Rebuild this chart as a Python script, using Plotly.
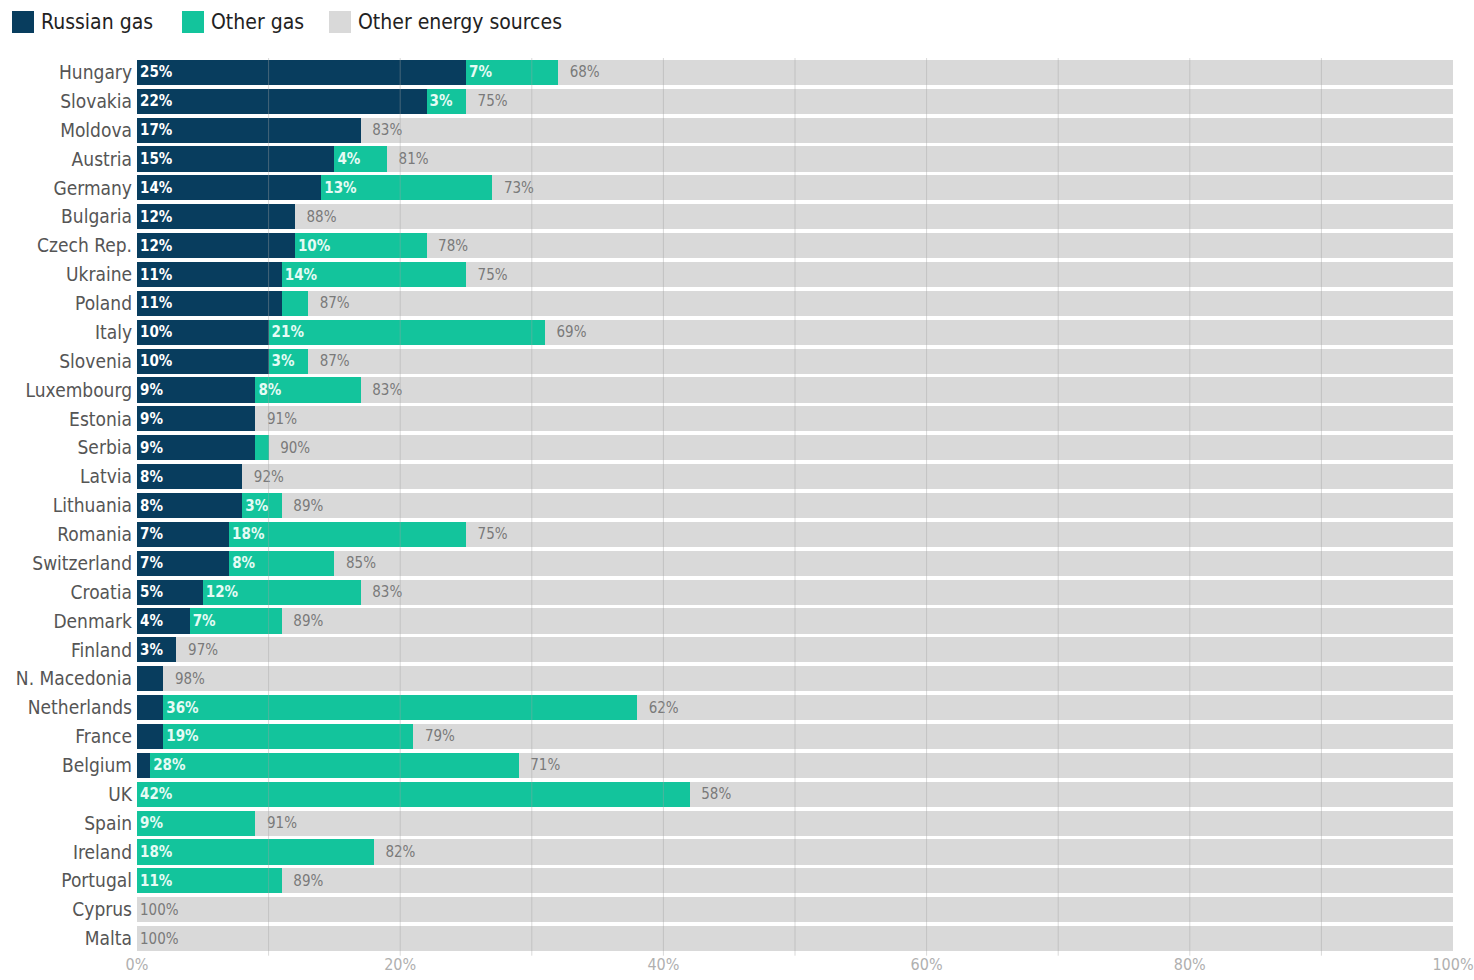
import plotly.graph_objects as go

countries = ["Hungary", "Slovakia", "Moldova", "Austria", "Germany", "Bulgaria", "Czech Rep.",
             "Ukraine", "Poland", "Italy", "Slovenia", "Luxembourg", "Estonia", "Serbia", "Latvia",
             "Lithuania", "Romania", "Switzerland", "Croatia", "Denmark", "Finland", "N. Macedonia",
             "Netherlands", "France", "Belgium", "UK", "Spain", "Ireland", "Portugal", "Cyprus", "Malta"]
russian_gas = [25, 22, 17, 15, 14, 12, 12, 11, 11, 10, 10, 9, 9, 9, 8, 8, 7, 7, 5, 4, 3, 2,
               2, 2, 1, 0, 0, 0, 0, 0, 0]
other_gas = [7, 3, 0, 4, 13, 0, 10, 14, 2, 21, 3, 8, 0, 1, 0, 3, 18, 8, 12, 7, 0, 0,
             36, 19, 28, 42, 9, 18, 11, 0, 0]
other_sources = [68, 75, 83, 81, 73, 88, 78, 75, 87, 69, 87, 83, 91, 90, 92, 89, 75, 85, 83, 89, 97, 98,
                 62, 79, 71, 58, 91, 82, 89, 100, 100]
series_names = ["Russian gas", "Other gas", "Other energy sources"]
x_ticks = [0, 20, 40, 60, 80, 100]
x_tick_labels = ["0%", "20%", "40%", "60%", "80%", "100%"]
grid_vals = [10, 20, 30, 40, 50, 60, 70, 80, 90]

NAVY = "#083d5e"
TEAL = "#13c49c"
GRAY = "#d9d9d9"
COLORS = [NAVY, TEAL, GRAY]
FONT = "DejaVu Sans Condensed, Roboto, sans-serif"

W, H = 1474, 980
ML, MR, MT, MB = 137, 21, 58, 27
PW, PH = W - ML - MR, H - MT - MB

def lab(vals, min_v=3):
    return [f"{v}%" if v >= min_v else "" for v in vals]

gray_text = [("\u00a0\u00a0" if v < 100 else "") + f"{v}%" for v in other_sources]
texts = [lab(russian_gas), lab(other_gas), gray_text]
text_colors = ["white", "#e6fbf5", "#7a7a7a"]
text_weights = ["bold", "bold", "normal"]

fig = go.Figure()
for name, vals, col, txt, tc, tw in zip(series_names, [russian_gas, other_gas, other_sources],
                                        COLORS, texts, text_colors, text_weights):
    fig.add_trace(go.Bar(y=countries, x=vals, orientation="h", name=name,
                         marker=dict(color=col, line=dict(width=0)),
                         text=txt, textposition="inside", insidetextanchor="start",
                         constraintext="none", showlegend=False,
                         textfont=dict(color=tc, size=15, family=FONT, weight=tw)))

shapes = [dict(type="line", xref="x", yref="paper", x0=g, x1=g, y0=-0.003, y1=1,
               line=dict(color="rgba(160,160,160,0.4)", width=1), layer="above")
          for g in grid_vals]

# custom legend (pixel positions converted to paper coords)
def px_x(p):
    return (p - ML) / PW

def px_y(p):
    return (H - MB - p) / PH

legend_sq_px = [12, 182, 329]
annotations = []
for name, col, sx in zip(series_names, COLORS, legend_sq_px):
    shapes.append(dict(type="rect", xref="paper", yref="paper",
                       x0=px_x(sx), x1=px_x(sx + 22), y0=px_y(33), y1=px_y(11),
                       fillcolor=col, line=dict(width=0), layer="above"))
    annotations.append(dict(xref="paper", yref="paper", x=px_x(sx + 27), y=px_y(22),
                            xanchor="left", yanchor="middle", showarrow=False, text=name,
                            font=dict(size=21, color="#222222", family=FONT)))

fig.update_layout(
    barmode="stack",
    bargap=0.13,
    width=W, height=H,
    margin=dict(l=ML, r=MR, t=MT, b=MB, autoexpand=False),
    paper_bgcolor="white", plot_bgcolor="white",
    font=dict(family=FONT, color="#555555"),
    showlegend=False,
    shapes=shapes,
    annotations=annotations,
    xaxis=dict(range=[0, 100], tickvals=x_ticks, ticktext=x_tick_labels, showgrid=False,
               zeroline=False, tickfont=dict(size=16, color="#b0b0b0"), ticks="",
               automargin=False, fixedrange=True),
    yaxis=dict(autorange="reversed", showgrid=False, ticks="", ticklen=0, automargin=False,
               tickfont=dict(size=19, color="#555555"), ticklabelstandoff=4),
)

fig.write_html("out.html", config={"displayModeBar": False},
               post_script="document.body.style.margin='0';document.body.style.overflow='hidden';")
